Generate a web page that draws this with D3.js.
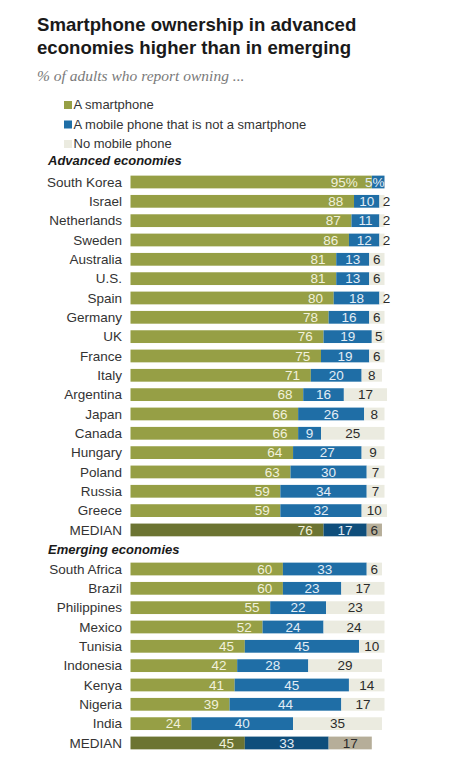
<!DOCTYPE html>
<html>
<head>
<meta charset="utf-8">
<script src="https://cdn.jsdelivr.net/npm/d3@7"></script>
<style>
  html, body { margin: 0; padding: 0; background: #fff; }
  svg { display: block; }
  text { font-family: "Liberation Sans", Arial, sans-serif; }
</style>
</head>
<body>
<svg id="chart" width="461" height="778"></svg>
<script>
// ---- Data ----
const titleLines = ["Smartphone ownership in advanced", "economies higher than in emerging"];
const subtitle = "% of adults who report owning ...";
const seriesNames = ["A smartphone", "A mobile phone that is not a smartphone", "No mobile phone"];

const advCountries = ["South Korea","Israel","Netherlands","Sweden","Australia","U.S.","Spain","Germany","UK","France","Italy","Argentina","Japan","Canada","Hungary","Poland","Russia","Greece","MEDIAN"];
const advSmart  = [95,88,87,86,81,81,80,78,76,75,71,68,66,66,64,63,59,59,76];
const advMobile = [5,10,11,12,13,13,18,16,19,19,20,16,26,9,27,30,34,32,17];
const advNone   = [0,2,2,2,6,6,2,6,5,6,8,17,8,25,9,7,7,10,6];

const emCountries = ["South Africa","Brazil","Philippines","Mexico","Tunisia","Indonesia","Kenya","Nigeria","India","MEDIAN"];
const emSmart  = [60,60,55,52,45,42,41,39,24,45];
const emMobile = [33,23,22,24,45,28,45,44,40,33];
const emNone   = [6,17,23,24,10,29,14,17,35,17];

// ---- Styles ----
const colors = ["#969f45", "#1f6ea6", "#ebebe0"];
const medianColors = ["#6c7432", "#0f4e7b", "#b6ae99"];
const labelColors = ["#f1f1dc", "#e3edf5", "#2b2b2b"];

const svg = d3.select("#chart");

// Title
svg.append("text").attr("x", 37).attr("y", 31)
  .attr("font-size", 18.6).attr("font-weight", "bold").attr("fill", "#1a1a1a")
  .selectAll("tspan").data(titleLines).join("tspan")
  .attr("x", 37).attr("dy", (d, i) => i === 0 ? 0 : 22.5).text(d => d);

svg.append("text").attr("x", 37).attr("y", 81)
  .style("font-family", "'Liberation Serif', serif")
  .attr("font-style", "italic").attr("font-size", 15.5).attr("fill", "#7a7a7a")
  .text(subtitle);

// Legend
const legend = svg.append("g");
seriesNames.forEach((name, i) => {
  const y = 109 + i * 19.5;
  legend.append("rect").attr("x", 64).attr("y", y - 8).attr("width", 8).attr("height", 8)
    .attr("fill", colors[i]);
  legend.append("text").attr("x", 73.5).attr("y", y).attr("font-size", 13).attr("fill", "#333")
    .text(name);
});

const x = d3.scaleLinear().domain([0, 100]).range([130.5, 384.5]);
const step = 19.33;

function section(title, titleY, countries, smart, mobile, none, center0) {
  const n = countries.length;
  const y = d3.scaleBand().domain(countries)
    .range([center0 - step / 2, center0 - step / 2 + n * step])
    .paddingInner(0.34).paddingOuter(0.17).align(0.5);

  svg.append("text").attr("x", 48).attr("y", titleY)
    .attr("font-size", 13).attr("font-weight", "bold").attr("font-style", "italic")
    .attr("fill", "#1a1a1a").text(title);

  const rows = countries.map((c, i) => ({
    country: c, vals: [smart[i], mobile[i], none[i]], median: c === "MEDIAN"
  }));

  const g = svg.append("g");
  const row = g.selectAll("g.row").data(rows).join("g").attr("class", "row");

  row.append("text")
    .attr("x", 122).attr("y", d => y(d.country) + y.bandwidth() / 2 + 4.8)
    .attr("text-anchor", "end").attr("font-size", 13.5).attr("fill", "#333")
    .text(d => d.country);

  row.each(function(d, ri) {
    const r = d3.select(this);
    let acc = 0;
    const segs = d.vals.map((v, k) => {
      const s = { k, v, x0: acc, x1: acc + v };
      acc += v;
      return s;
    });
    r.selectAll("rect").data(segs.filter(s => s.v > 0)).join("rect")
      .attr("x", s => x(s.x0))
      .attr("y", y(d.country))
      .attr("width", s => x(s.x1) - x(s.x0))
      .attr("height", y.bandwidth())
      .attr("fill", s => d.median ? medianColors[s.k] : colors[s.k]);

    const ty = y(d.country) + y.bandwidth() / 2 + 4.8;
    segs.filter(s => s.v > 0).forEach(s => {
      let tx, anchor = "middle", txt = String(s.v);
      if (ri === 0 && countries[0] === "South Korea") txt = s.v + "%";
      if (s.k === 0) { tx = x(s.x1) - (txt.endsWith("%") ? 14 : 10.7); anchor = "end"; }
      else if (s.k === 1) {
        const c = (x(s.x0) + x(s.x1)) / 2;
        if (s.v < 6) { tx = x(s.x1); anchor = "end"; } else tx = c;
      } else {
        tx = Math.max((x(s.x0) + x(s.x1)) / 2, x(s.x0) + 7);
      }
      r.append("text").attr("x", tx).attr("y", ty).attr("text-anchor", anchor)
        .attr("font-size", 13.5)
        .attr("fill", d.median && s.k === 2 ? "#2b2b2b" : labelColors[s.k])
        .text(txt);
    });
  });
}

section("Advanced economies", 165, advCountries, advSmart, advMobile, advNone, 182);
section("Emerging economies", 554, emCountries, emSmart, emMobile, emNone, 569);
</script>
</body>
</html>
